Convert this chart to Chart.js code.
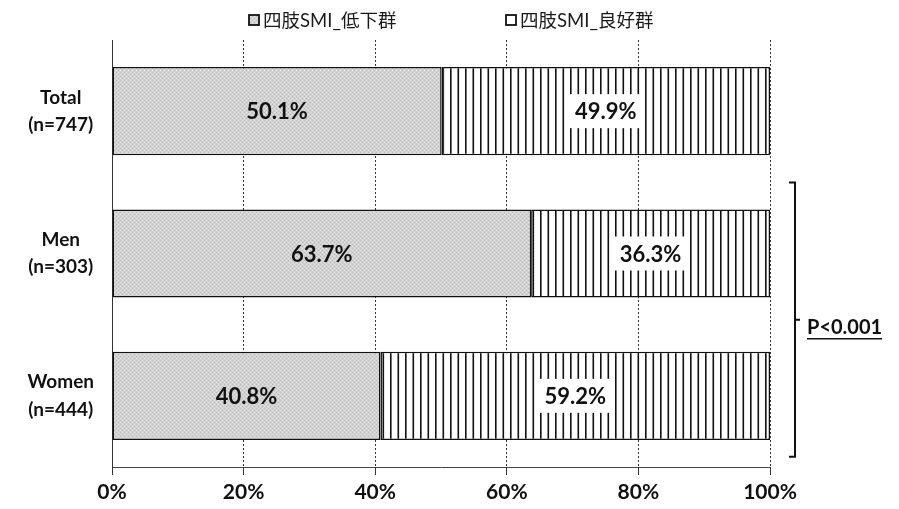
<!DOCTYPE html>
<html>
<head>
<meta charset="utf-8">
<script src="https://cdn.jsdelivr.net/npm/chart.js@4/dist/chart.umd.min.js"></script>
<style>
  html, body { margin: 0; padding: 0; background: #fff; }
  #wrap { width: 899px; height: 509px; }
</style>
</head>
<body>
<div id="wrap"><canvas id="grafico" width="899" height="509"></canvas></div>
<script>
const categories = [["Total", "(n=747)"], ["Men", "(n=303)"], ["Women", "(n=444)"]];
const seriesNames = ["四肢SMI_低下群", "四肢SMI_良好群"];
const lowValues = [50.1, 63.7, 40.8];
const goodValues = [49.9, 36.3, 59.2];
const xTicks = [0, 20, 40, 60, 80, 100];
const pLabel = "P<0.001";

const FONT = "Lato, 'Noto Sans CJK JP', sans-serif";

// textura cinza (pontilhado determinístico)
function padraoCinza(ctx) {
  const c = document.createElement("canvas");
  c.width = 4; c.height = 4;
  const g = c.getContext("2d");
  g.fillStyle = "#d3d3d3";
  g.fillRect(0, 0, 4, 4);
  g.fillStyle = "#b8b8b8";
  g.fillRect(0, 0, 1, 1);
  g.fillRect(2, 2, 1, 1);
  g.fillStyle = "#e4e4e4";
  g.fillRect(2, 0, 1, 1);
  g.fillRect(0, 2, 1, 1);
  return ctx.createPattern(c, "repeat");
}

// listras verticais
function padraoListras(ctx) {
  const c = document.createElement("canvas");
  c.width = 15; c.height = 4;
  const g = c.getContext("2d");
  g.fillStyle = "#ffffff";
  g.fillRect(0, 0, 15, 4);
  g.fillStyle = "#111111";
  g.fillRect(0, 0, 1.6, 4);
  g.fillRect(7.5, 0, 1.6, 4);
  return ctx.createPattern(c, "repeat");
}

const canvas = document.getElementById("grafico");
const ctx = canvas.getContext("2d");

// legenda desenhada à mão (posições do original)
const legendaX = [249, 506];
const legenda = {
  id: "legenda",
  afterDraw(chart) {
    const c = chart.ctx;
    c.save();
    c.font = "18.5px " + FONT;
    c.textBaseline = "middle";
    c.textAlign = "left";
    chart.data.datasets.forEach((ds, i) => {
      const x = legendaX[i];
      // no original a caixa da 2a série fica praticamente branca
      c.fillStyle = i === 0 ? ds.backgroundColor : "#fff";
      c.fillRect(x, 15, 10, 10);
      c.strokeStyle = "#111";
      c.lineWidth = 1.8;
      c.strokeRect(x, 15, 10, 10);
      c.fillStyle = "#1a1a1a";
      c.fillText(ds.label, x + 14, 21);
    });
    c.restore();
  }
};

// rótulos dentro das barras
const rotulos = {
  id: "rotulos",
  afterDatasetsDraw(chart) {
    const c = chart.ctx;
    c.save();
    c.font = "bold 22px " + FONT;
    c.textAlign = "center";
    c.textBaseline = "middle";
    chart.data.datasets.forEach((ds, i) => {
      chart.getDatasetMeta(i).data.forEach((bar, j) => {
        const x = (bar.x + bar.base) / 2;
        const y = bar.y;
        const txt = ds.data[j].toFixed(1) + "%";
        if (i === 1) {
          const w = c.measureText(txt).width + 14;
          c.fillStyle = "#fff";
          c.fillRect(x - w / 2, y - 17, w, 34);
        }
        c.fillStyle = "#111";
        c.fillText(txt, x, y + 1);
      });
    });
    c.restore();
  }
};

// colchete e valor de P
const colchete = {
  id: "colchete",
  afterDraw(chart) {
    const c = chart.ctx;
    const ys = chart.scales.y;
    const area = chart.chartArea;
    const meio = ys.getPixelForValue(1);
    const baixo = ys.getPixelForValue(2);
    const top = meio - 71;
    const bot = baixo + 61;
    const mid = (top + bot) / 2;
    const x = area.right + 25;
    c.save();
    c.strokeStyle = "#111";
    c.lineWidth = 2;
    c.beginPath();
    c.moveTo(x - 6, top); c.lineTo(x, top); c.lineTo(x, bot); c.lineTo(x - 6, bot);
    c.moveTo(x, mid); c.lineTo(x + 5, mid);
    c.stroke();
    c.font = "bold 20px " + FONT;
    c.fillStyle = "#111";
    c.textBaseline = "middle";
    c.textAlign = "left";
    const tx = x + 12;
    c.fillText(pLabel, tx, mid + 8);
    const w = c.measureText(pLabel).width;
    c.lineWidth = 1.5;
    c.beginPath();
    c.moveTo(tx, mid + 19); c.lineTo(tx + w, mid + 19);
    c.stroke();
    c.restore();
  }
};

new Chart(canvas, {
  type: "bar",
  data: {
    labels: categories,
    datasets: [{
      label: seriesNames[0],
      data: lowValues,
      backgroundColor: padraoCinza(ctx),
      borderColor: "#111",
      borderWidth: 1.5,
      borderSkipped: false,
      barPercentage: 0.62,
      categoryPercentage: 1
    }, {
      label: seriesNames[1],
      data: goodValues,
      backgroundColor: padraoListras(ctx),
      borderColor: "#111",
      borderWidth: 1.5,
      borderSkipped: false,
      barPercentage: 0.62,
      categoryPercentage: 1
    }]
  },
  options: {
    indexAxis: "y",
    responsive: false,
    animation: false,
    layout: { padding: { top: 40 } },
    plugins: {
      legend: { display: false },
      tooltip: { enabled: false }
    },
    scales: {
      x: {
        stacked: true,
        min: 0,
        max: 100,
        afterBuildTicks(s) { s.ticks = xTicks.map(v => ({ value: v })); },
        afterFit(s) { s.height = 42; },
        grid: {
          color: "#333",
          lineWidth: 1,
          tickLength: 8,
          drawTicks: true
        },
        border: { display: true, color: "#444", dash: [2, 2] },
        ticks: {
          color: "#111",
          font: { family: FONT, size: 21, weight: "bold" },
          padding: 5,
          callback: v => v + "%"
        }
      },
      y: {
        stacked: true,
        afterFit(s) { s.width = 112; },
        grid: { display: false },
        border: { display: true, color: "#333" },
        ticks: {
          color: "#111",
          font: { family: FONT, size: 19, weight: "bold", lineHeight: 1.45 },
          crossAlign: "center",
          padding: 10
        }
      },
      yr: {
        position: "right",
        afterFit(s) { s.width = 129; },
        grid: { display: false },
        border: { display: false },
        ticks: { display: false }
      }
    }
  },
  plugins: [legenda, rotulos, colchete]
});
</script>
</body>
</html>
